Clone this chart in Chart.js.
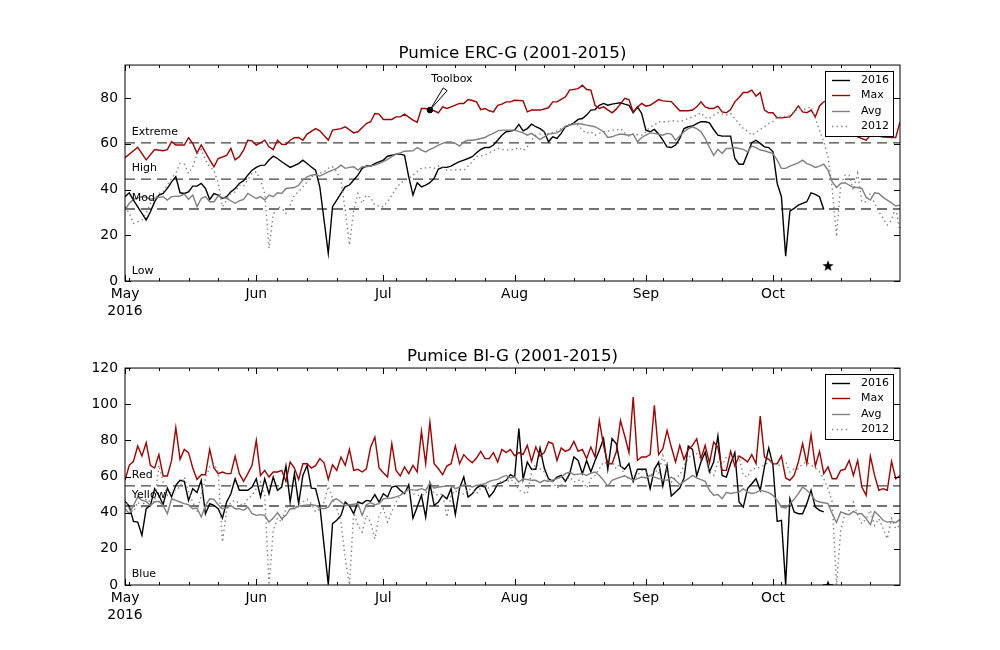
<!DOCTYPE html>
<html>
<head>
<meta charset="utf-8">
<script src="https://cdn.jsdelivr.net/npm/chart.js@4.4.1/dist/chart.umd.min.js"></script>
<style>
  body { margin: 0; background: #fff; }
  canvas { display: block; }
</style>
</head>
<body>
<canvas id="erc" width="1000" height="325"></canvas>
<canvas id="bi" width="1000" height="325"></canvas>
<script>
// x values are days since May 1 2016
const months = ['May', 'Jun', 'Jul', 'Aug', 'Sep', 'Oct'];
const monthStart = [0, 31, 61, 92, 123, 153];
const lastDay = 183;
const seriesNames = ['2016', 'Max', 'Avg', '2012'];

const ercTicks = [0, 20, 40, 60, 80];
const ercLevels = [60.4, 44.6, 31.5];
const ercLevelNames = ['Extreme', 'High', 'Mod', 'Low'];
const ercLevelText = [65.1, 49.4, 36.3, 4.4];

const biTicks = [0, 20, 40, 60, 80, 100, 120];
const biLevels = [54.8, 43.7];
const biLevelNames = ['Red', 'Yellow', 'Blue'];
const biLevelText = [60.8, 49.8, 6.1];

const toolboxPoint = [72, 74.8];
const todayStar = 166;

const erc2016 = [[0,36.9],[1,38.6],[2,35.4],[4,29.6],[5,26.7],[6,30.3],[7,34.7],[8,37.6],[9,38.3],[10,40.5],[11,43.4],[12,45.6],[13,38.6],[14,38.3],[15,39],[16,41.5],[17,41.5],[18,42.7],[19,40.5],[20,35.7],[21,38.3],[22,37.6],[23,36.1],[24,36.9],[25,39],[26,40.5],[27,42.7],[28,43.9],[29,46.3],[30,48.5],[31,49.7],[32,50.6],[33,50.7],[34,52.9],[35,54.6],[36,53.6],[37,52.2],[39,49.7],[41,51.4],[42,52.9],[43,51.4],[44,49.9],[45,48.5],[46,41.2],[47,26.7],[48,12.1],[49,32.5],[50,35.4],[51,38.3],[52,41.2],[53,42],[54,44.2],[55,46.3],[56,49.3],[57,50.3],[58,50.3],[59,51.4],[61,52.9],[62,54.6],[63,55],[64,55.5],[65,55.5],[66,55],[67,45.6],[68,37.6],[69,43],[70,41.2],[71,42],[72,43],[73,44.9],[74,49],[75,49.7],[76,49.7],[77,50.3],[78,51.4],[79,52.2],[80,52.9],[81,53.6],[82,54.4],[83,56.1],[84,57.6],[85,58.4],[86,58.4],[87,59.5],[88,61.6],[89,63.8],[90,65.3],[91,65.6],[92,66],[93,68.5],[94,65.7],[95,66.7],[96,68.6],[97,67.5],[98,66.7],[99,65.3],[100,60.9],[101,63.1],[102,62.4],[103,64.6],[104,67.5],[105,68.2],[106,69.2],[107,70.7],[108,71.1],[109,72.6],[110,74.8],[111,75],[112,76.9],[113,77.7],[114,76.9],[115,77.4],[116,77.7],[117,78],[118,77.4],[119,76.9],[120,73.6],[121,76.2],[122,73.3],[123,66],[124,65.3],[125,66.3],[126,64.3],[127,61.6],[128,58.7],[129,58.4],[130,59.5],[131,62.4],[132,66.7],[133,67.5],[134,67.8],[135,68.9],[136,69.7],[137,69.7],[138,69.2],[139,66.3],[140,63.8],[141,63.4],[142,63.4],[143,63.4],[144,53.6],[145,51.1],[146,51.1],[147,55.8],[148,60.5],[149,61.6],[150,60.2],[151,58.7],[152,58.4],[153,56.5],[154,42.7],[155,36.9],[156,10.9],[157,30.6],[158,31.8],[159,33.2],[160,34],[161,34.7],[162,38.6],[163,37.9],[164,36.9],[165,31.3]];
const ercMax = [[0,54],[3,58.5],[5,53],[7,57.5],[9,57],[10,57.5],[11,61],[12,59.5],[14,59.5],[15,62.7],[16,60.2],[17,56],[18,59.5],[20,53],[21,50],[22,53.6],[24,55],[25,58],[26,53],[27,54.4],[28,57.3],[29,61.6],[30,61.3],[31,59.5],[32,60.5],[33,61.6],[34,58.7],[35,57.5],[36,61.6],[37,59.8],[38,59.7],[39,61.6],[40,62.7],[41,62.8],[42,61.6],[43,64.3],[44,65.5],[45,66.7],[46,65.7],[48,61.6],[49,66],[51,66.7],[52,67.5],[54,64.8],[55,65.3],[57,68.9],[58,69.7],[59,73.3],[60,73],[61,70.7],[63,70.7],[64,71.8],[65,71.8],[66,73],[68,70.4],[69,69.5],[70,75.5],[71,75.5],[72,74.8],[73,74.5],[74,73.6],[75,76.2],[76,75.5],[77,76.2],[78,77],[79,77.7],[80,77.7],[81,79.4],[82,79],[83,78.4],[84,75],[85,75.5],[86,74.5],[87,74],[88,76.9],[89,77.4],[90,78.4],[91,78.4],[92,79.1],[93,79],[94,78.8],[95,74],[96,74.8],[98,74.8],[100,75.8],[101,78.4],[102,78.4],[103,79.5],[104,80.6],[105,83.5],[107,84.2],[108,85.7],[109,83.8],[110,83.5],[111,76.9],[112,75.5],[113,76.2],[115,73.6],[116,75.2],[117,77.5],[118,79.9],[119,79.4],[120,74],[121,76],[122,77.7],[123,76.5],[124,76.9],[126,79.4],[127,78.8],[129,78.5],[130,76.5],[131,74.5],[133,74.5],[134,74.8],[135,76.2],[136,78.4],[137,76.2],[138,75.5],[139,75.5],[140,76.5],[141,74],[142,73.6],[143,75],[144,78.4],[145,80.3],[146,82.5],[147,82.5],[148,83.5],[149,80.9],[150,82.5],[151,74.8],[152,73.6],[153,73.6],[154,71.4],[155,71.4],[156,71.6],[157,71.8],[158,74],[159,76.6],[160,74],[161,73.6],[162,74.8],[163,71.8],[164,76.6],[165,78.4],[166,79],[167,80],[168,78],[169,75],[170,72],[171,68],[172,65],[173,63],[175,61.6],[176,63.8],[178,63.4],[179,63],[181,62.8],[182,62.8],[183,69.6]];
const ercAvg = [[0,31],[1,34],[2,35.7],[4,36.9],[5,36.6],[6,35.8],[7,36.2],[9,36.9],[10,35.4],[11,36.9],[13,37.2],[14,38],[15,35.7],[16,37.6],[17,32.5],[18,36.1],[19,36.9],[20,34.7],[21,34.7],[22,37.2],[23,36.6],[24,36.1],[26,34],[27,35.1],[28,35.7],[29,38.3],[31,36.1],[32,36.9],[33,35.4],[34,37.6],[35,36.9],[36,38.6],[37,38.3],[38,40.5],[40,40.9],[41,41.9],[42,44.2],[43,45.6],[44,46.3],[45,46.6],[46,45.9],[48,47.8],[50,49.3],[51,50.7],[52,49.3],[53,49.7],[54,50],[55,48.5],[56,50],[57,50],[58,50.3],[59,50.7],[61,52.2],[62,53.2],[63,54.4],[64,55.5],[65,56.1],[66,56.8],[67,56.9],[68,57],[69,58.4],[70,57.3],[71,56.5],[72,57.6],[73,58.4],[74,59.5],[75,60.2],[76,60.9],[77,60.9],[78,60.2],[79,59],[80,60.9],[81,61.6],[82,61.6],[83,61.9],[85,62.8],[86,63.8],[87,64.6],[88,65.7],[89,66],[91,66],[92,66],[94,64.8],[95,63.8],[96,64.6],[98,61.9],[99,63.1],[100,64.3],[102,64.8],[103,66],[104,67.8],[105,68.2],[107,68.9],[108,68.6],[109,68.2],[110,67.8],[111,67.5],[113,65.3],[114,62.8],[115,63.1],[116,63.8],[117,64.3],[119,63.8],[120,64.3],[121,60.9],[122,62.8],[123,63.8],[124,64.8],[125,64.6],[127,63.8],[128,64.6],[129,64.3],[130,61.6],[132,65.3],[133,66.7],[134,67.5],[135,66.7],[136,65.3],[137,62.4],[138,58.5],[139,55],[140,57.6],[141,55.8],[142,58],[143,58],[144,58.4],[146,57.6],[147,56.5],[148,59],[149,58.4],[150,57.3],[151,57],[153,55.8],[154,52.9],[155,49.3],[156,49.3],[157,50.3],[159,51.7],[160,52.9],[161,51.4],[162,50.7],[163,49.7],[164,50.3],[165,51.1],[166,48.5],[167,43.4],[168,40.9],[169,42.7],[170,43],[172,40.9],[173,40.9],[174,40.5],[175,36.6],[176,35.4],[177,38.6],[178,38.3],[179,36.6],[180,35.4],[181,34.2],[182,32.8],[183,33.2]];
const erc2012 = [[0,32.5],[1,29.6],[2,25.2],[4,26.7],[5,29.6],[6,34],[7,35.7],[8,38.3],[9,39],[11,44.9],[12,47.1],[13,51.4],[14,51.1],[15,47.1],[16,50],[17,55.5],[18,57.6],[19,52.9],[20,50],[21,48.5],[22,43],[23,32.5],[24,35.4],[25,38.3],[26,39],[27,42],[28,41.5],[30,47.1],[31,47.8],[32,44.2],[33,38.3],[34,14.3],[35,29],[36,32.5],[37,31.8],[38,29.6],[39,33.2],[40,37.6],[41,39],[42,41.2],[43,43.4],[44,45.6],[46,47.1],[47,47.8],[48,49.3],[49,50],[50,47.8],[51,44],[52,31],[53,15.7],[54,31],[55,38.3],[56,34],[57,37.6],[58,36.5],[59,33.2],[60,32.8],[61,32.5],[62,34.7],[63,37.6],[64,40.5],[65,42.7],[66,44],[67,44.9],[68,46.3],[69,47.8],[70,49.3],[71,49.5],[72,49.7],[73,49.3],[74,50.3],[75,50],[76,48.5],[77,48.5],[79,48.8],[80,48.5],[81,50.3],[82,52.2],[83,54.4],[85,55.1],[86,56.1],[87,57],[88,58],[89,57.6],[90,57.3],[92,57.6],[93,58.4],[94,57],[95,58.7],[96,61.6],[97,63.8],[98,64.3],[99,65.3],[100,64.3],[101,65],[102,65.7],[103,66.7],[104,67.5],[105,68.6],[106,68.9],[107,68.2],[108,66],[109,64.6],[110,65.3],[111,63.8],[112,64.6],[113,65.3],[114,65.6],[115,66],[116,66],[117,66.7],[118,64.8],[119,63.4],[120,64.3],[121,64],[122,63.8],[123,65.3],[124,67.5],[125,68.2],[126,69.7],[127,69.7],[128,69.7],[129,70.1],[130,70.1],[131,69.7],[132,70.4],[133,71.1],[134,71.8],[135,72.6],[136,73.6],[137,71.5],[138,71.1],[139,72.6],[140,73.6],[142,72.6],[143,73.3],[144,71.1],[145,68.9],[146,66.7],[147,65.5],[148,63.8],[150,66.3],[151,67.5],[152,68.9],[153,69.7],[154,71.8],[155,71.8],[157,72.6],[158,74],[159,75.5],[160,74.8],[161,75.5],[162,76.2],[163,71.1],[164,66],[165,60.9],[166,54.4],[167,40.5],[168,19.4],[169,42],[170,46.3],[171,46.3],[172,39.8],[173,47.1],[174,34.7],[175,34.7],[176,38.3],[177,33.9],[178,30.3],[180,24.5],[181,26.7],[182,32.5],[183,21]];

const bi2016 = [[0,46.3],[1,43.7],[2,35.2],[3,34.8],[4,27.5],[5,42.2],[6,44],[7,53.3],[8,49.6],[9,44.4],[10,53.6],[11,48.7],[12,55.1],[13,57.9],[14,57.3],[15,46.8],[16,53.3],[17,51.1],[18,57.9],[19,39.4],[20,45],[21,44],[22,42.2],[23,37],[24,45.9],[25,50.5],[26,58.8],[27,52.4],[28,52.4],[29,52.4],[30,54.2],[31,58.8],[32,48.7],[33,58.8],[34,50.5],[35,59.7],[36,52.4],[37,54.2],[38,65.8],[39,45.9],[40,61.6],[41,45],[42,60.6],[43,66.2],[44,53.6],[45,53.3],[46,44],[47,21.9],[48,0.2],[49,33.9],[50,35.8],[51,38.5],[52,45.9],[53,43.7],[54,39.4],[55,45.9],[56,45],[57,46.8],[58,46.3],[59,50],[60,45.9],[61,50.5],[62,48.7],[63,54.2],[64,54.7],[65,52.4],[66,50.5],[67,55.5],[68,37],[69,43.1],[70,49.6],[71,37.6],[72,56],[73,44],[74,45.9],[75,49.6],[76,47.7],[77,53.3],[78,38.9],[79,53.6],[80,59.7],[81,48.7],[82,50.5],[83,53.6],[84,55.1],[85,54.2],[86,48.7],[87,51.4],[88,56],[89,56.6],[90,57.9],[91,61],[92,59.7],[93,86.5],[94,58.4],[95,68],[96,64],[97,64],[98,75.8],[99,64.7],[100,58.8],[101,57.3],[102,59.7],[103,60.6],[104,57.3],[105,61.6],[106,70.8],[107,68.9],[108,61.6],[109,68.9],[110,62.5],[111,68.9],[112,74.5],[113,80.9],[114,64],[115,80.9],[116,78.2],[117,65.8],[118,64],[119,67.1],[120,57.3],[121,64],[122,64],[123,64],[124,53.3],[125,64],[126,68],[127,54.7],[128,66.2],[129,49.2],[130,51.4],[131,53.6],[132,59.2],[133,76.9],[134,75],[135,60.3],[136,68],[137,73.5],[138,62.5],[139,68],[140,82.4],[141,60.6],[142,59.7],[143,67.1],[144,73.2],[145,45.9],[146,43.1],[147,53.3],[148,56],[149,58.8],[150,52.4],[151,65.3],[152,75.8],[153,66.2],[154,35.2],[155,35.8],[156,0.2],[157,47.7],[158,40.4],[159,39.4],[160,39.4],[161,45],[162,52.4],[163,43.1],[164,41.3],[165,40.4]];
const biMax = [[0,57.9],[1,66.2],[2,68.4],[3,76.9],[4,71.3],[5,78.7],[6,66.2],[7,64.7],[8,72.1],[9,60.3],[10,60.3],[11,68.9],[12,87],[13,69.5],[14,75],[15,73.2],[16,64.7],[17,58.4],[18,61],[19,61],[20,75],[21,64.7],[22,61.6],[23,62.5],[24,61.6],[25,61.6],[26,71.2],[27,61.6],[28,57.3],[29,61.6],[30,66.2],[31,80],[32,60.6],[33,63.4],[34,59.7],[35,62.5],[36,62.5],[37,63.4],[38,57.3],[39,68],[40,64.7],[41,58.4],[42,67.1],[43,67.1],[44,64.7],[45,66],[46,69.9],[47,67.6],[48,58.4],[49,66.5],[50,63.4],[51,70.8],[52,66.2],[53,75],[54,63.4],[55,64],[56,62.5],[57,64.3],[58,76.3],[59,81.8],[60,64.7],[61,62.1],[62,59.7],[63,78.2],[64,63.4],[65,60.3],[66,65.3],[67,61.6],[68,66.2],[69,62.5],[70,85],[71,67.1],[72,90.1],[73,67.1],[74,64.3],[75,61],[76,65.8],[77,67.1],[78,76.9],[79,67.1],[80,72.1],[81,69.5],[82,67.6],[83,70.2],[84,73.9],[85,69.9],[86,69.9],[87,73.2],[88,68],[89,75],[90,73.2],[91,75],[92,71.5],[93,73.2],[94,72.1],[95,77.2],[96,68.4],[97,76.3],[98,71.3],[99,73.2],[100,79.1],[101,78.2],[102,68.9],[103,75.8],[104,73.9],[105,75],[106,79.4],[107,73.9],[108,75],[109,69.9],[110,76.3],[111,70.8],[112,91],[113,77.2],[114,67.1],[115,67.1],[116,73.5],[117,91],[118,82.4],[119,73.2],[120,104],[121,68.9],[122,70.8],[123,70.8],[124,72.1],[125,99.4],[126,72.1],[127,75.4],[128,85.5],[129,76.3],[130,68],[131,77.2],[132,69.5],[133,75],[134,77.2],[135,80.9],[136,69.9],[137,77.2],[138,67.5],[139,79.1],[140,76.3],[141,63.4],[142,63.4],[143,73.9],[144,65.8],[145,71.3],[146,69.9],[147,68],[148,72.1],[149,67.1],[150,93.5],[151,70.8],[152,69.5],[153,67.1],[154,67.1],[155,71.3],[156,59.2],[157,57.9],[158,60.6],[159,68],[160,78.2],[161,67.1],[162,83.1],[163,65.8],[164,73.9],[165,61.6],[166,65.3],[167,58.8],[168,58.8],[169,63.4],[170,64],[171,68.9],[172,60.6],[173,68.9],[174,54.2],[175,49.6],[176,71.3],[177,60.6],[178,52.4],[179,53.3],[180,52.4],[181,68.4],[182,58.8],[183,60.6]];
const biAvg = [[0,42.2],[1,39.4],[2,44],[3,48.7],[4,46.8],[5,46.3],[6,44],[7,45.9],[8,46.3],[9,44],[10,39.4],[11,47.7],[12,46.8],[13,45.9],[14,45],[15,44.4],[16,42.2],[17,42.6],[18,37.6],[19,44],[20,47.7],[21,47.4],[22,44.4],[23,42.2],[24,42.6],[25,44],[26,42.2],[27,42.2],[28,41.3],[29,43.1],[30,39.4],[31,38.5],[32,38.9],[33,38.5],[34,34.8],[35,37],[36,40],[37,36.7],[38,38.5],[39,42.2],[40,42.2],[41,43.7],[42,44],[44,44.4],[45,44],[46,42.6],[47,42.2],[48,43.1],[49,46.8],[50,47.7],[51,45.9],[52,44],[53,44.4],[54,44.7],[55,45],[56,38.5],[57,44.4],[58,45.5],[59,44.4],[60,45],[61,47.7],[62,47.9],[63,48.1],[64,48.7],[65,49.6],[66,51.4],[67,52.9],[68,52.6],[69,52.4],[70,53.3],[71,52.4],[72,56.6],[73,53.6],[74,54.2],[75,54.5],[76,54.7],[77,55.1],[78,53.3],[79,54.2],[80,55.5],[81,54.8],[82,54.2],[83,55.1],[84,55.5],[85,56],[86,57.3],[87,58],[88,58.4],[89,59.7],[90,60.6],[91,59.2],[92,59.7],[93,57],[94,58.8],[96,57.9],[97,57.9],[98,56.6],[99,57.9],[100,57.3],[102,58.8],[103,59.7],[104,61.6],[105,62.5],[106,61],[107,61.3],[108,61.6],[109,60.6],[110,61.9],[111,62.5],[112,60.6],[113,57.9],[114,54.7],[115,57.9],[116,58.8],[117,59.7],[118,60.3],[119,59.2],[120,57.9],[121,58.8],[122,59.7],[123,59.2],[124,60.6],[125,59.7],[126,58.8],[127,58.3],[128,57.9],[129,59.7],[130,57.9],[131,55.5],[132,57.3],[133,58.8],[134,60.6],[135,59.2],[136,58.3],[137,57.3],[138,52.4],[139,49.6],[140,50],[141,47.7],[142,51.1],[143,50.6],[144,51.1],[145,51.4],[146,53.3],[147,51.4],[148,50.6],[149,51.1],[150,52.4],[151,51.8],[152,51.1],[153,49.6],[154,46.8],[155,43.1],[156,42.6],[157,45],[158,47.4],[159,50.5],[160,54.2],[161,52.4],[162,50],[163,46.8],[164,45.9],[165,45.5],[166,45],[167,39.4],[168,34.5],[169,40.4],[170,39.4],[171,38.9],[172,40.7],[173,39.4],[174,39.4],[175,36.7],[176,33.4],[177,40.7],[178,38.5],[179,35.8],[180,34.8],[181,35.2],[182,34.5],[183,36.3]];
const bi2012 = [[0,47.7],[1,42.2],[2,40.4],[3,45.9],[4,43.1],[5,47.7],[6,45.9],[7,45.9],[8,66.2],[9,57],[10,49.6],[11,51.4],[12,52.4],[13,54.2],[14,59.7],[15,51.4],[16,45.9],[17,40.4],[18,49.6],[19,58.8],[20,65.3],[21,67.1],[22,62.5],[23,23.8],[24,41.3],[25,45.9],[26,46.8],[27,45],[28,44],[29,47.7],[30,49.6],[31,53.3],[32,57],[33,49.6],[34,0],[35,30],[36,37],[37,34.8],[38,42.2],[39,45],[40,42.2],[41,45],[42,46],[43,47.4],[44,45],[45,40.4],[46,42.2],[47,45.9],[48,54.5],[49,48],[50,42.2],[51,34.8],[52,15],[53,0],[54,40],[55,33],[56,29.3],[57,38.5],[58,34.8],[59,25.6],[60,38.5],[61,42.2],[62,34.8],[63,40.4],[64,45.9],[65,49.6],[66,51.4],[67,50],[68,50.5],[69,49.6],[70,49.6],[71,50.5],[72,56],[73,50.5],[74,49.6],[75,50.5],[76,37.6],[77,49.6],[78,52.4],[79,49.6],[80,50.5],[81,53.3],[82,52.4],[83,50.5],[84,53.6],[85,54.2],[86,53.6],[87,55.1],[88,55.5],[89,57.9],[90,57],[91,58.4],[92,57],[93,52.4],[94,51.4],[95,50.5],[96,62.5],[97,67.1],[98,64.3],[99,62.5],[100,57.9],[101,57],[102,53.6],[103,55.1],[104,57.9],[105,59.7],[106,57],[107,57.9],[108,57.9],[109,53.6],[110,58.8],[111,60.6],[112,64.3],[113,68],[114,67.1],[115,68],[116,64.3],[117,68],[118,59.7],[119,58.8],[120,58.4],[121,60.6],[122,63.4],[123,62.5],[124,59.7],[125,64.3],[126,61.6],[127,71.7],[128,62.5],[129,57],[130,59.7],[131,60.6],[132,66.2],[133,69.9],[134,73.2],[135,72.6],[136,69.9],[137,70.8],[138,62.5],[139,60.6],[140,68],[141,66.2],[142,70.8],[143,72.6],[144,71.7],[145,70.8],[146,60.6],[147,59.7],[148,64.3],[149,64.3],[150,65.3],[151,66.2],[152,68],[153,68],[154,66.2],[155,66.2],[156,68],[157,62.5],[158,64.3],[159,64.3],[160,67.1],[161,68],[162,66.2],[163,64.7],[164,62.5],[165,58.8],[166,53.3],[167,45.9],[168,0],[169,30],[170,39.4],[171,41.3],[172,45.9],[173,38.5],[174,33.9],[175,36.7],[176,41.3],[177,33],[178,36.7],[179,31.2],[180,25.6],[181,36.7],[182,31.2],[183,33]];

const FONT = 'DejaVu Sans';
const RED = '#a00000';
const GRAY = '#808080';
const DOTS = [1.4, 3.2];

function xy(pairs) {
    return pairs.map(p => ({ x: p[0], y: p[1] }));
}

function makeStar() {
    const c = document.createElement('canvas');
    c.width = 14; c.height = 14;
    const g = c.getContext('2d');
    g.fillStyle = '#000';
    g.beginPath();
    for (let i = 0; i < 10; i++) {
        const r = i % 2 ? 2.4 : 6;
        const a = -Math.PI / 2 + i * Math.PI / 5;
        g.lineTo(7 + r * Math.cos(a), 7 + r * Math.sin(a));
    }
    g.closePath();
    g.fill();
    return c;
}
const starImg = makeStar();

// frame, inward ticks, level names, annotation and the boxed legend
const framePlugin = {
    id: 'frame',
    afterDraw(chart, args, opts) {
        const { ctx, chartArea: a, scales: { x, y } } = chart;
        ctx.save();

        // the "today" star sits on the lower axis, clipped like the data
        if (opts.edgeStar !== undefined) {
            ctx.save();
            ctx.beginPath();
            ctx.rect(a.left, a.top, a.right - a.left, a.bottom - a.top);
            ctx.clip();
            const sx = x.getPixelForValue(todayStar);
            const sy = y.getPixelForValue(opts.edgeStar);
            ctx.drawImage(starImg, sx - 7, sy - 7);
            ctx.restore();
        }

        ctx.strokeStyle = '#000';
        ctx.lineWidth = 1;
        ctx.strokeRect(a.left, a.top, a.right - a.left, a.bottom - a.top);

        const tick = (x0, y0, x1, y1) => {
            ctx.beginPath(); ctx.moveTo(x0, y0); ctx.lineTo(x1, y1); ctx.stroke();
        };
        monthStart.forEach(d => {
            const px = Math.round(x.getPixelForValue(d)) + 0.5;
            tick(px, a.bottom, px, a.bottom - 6);
            tick(px, a.top, px, a.top + 6);
        });
        for (let d = 1; d < lastDay; d += 7) {
            if (monthStart.includes(d)) continue;
            const px = Math.round(x.getPixelForValue(d)) + 0.5;
            tick(px, a.bottom, px, a.bottom - 3);
            tick(px, a.top, px, a.top + 3);
        }
        opts.yTicks.forEach(v => {
            const py = Math.round(y.getPixelForValue(v)) + 0.5;
            tick(a.left, py, a.left + 6, py);
            tick(a.right, py, a.right - 6, py);
        });

        ctx.fillStyle = '#000';
        ctx.font = '11px ' + FONT;
        ctx.textAlign = 'left';
        ctx.textBaseline = 'middle';
        opts.levelNames.forEach((t, i) => {
            ctx.fillText(t, x.getPixelForValue(1.6), y.getPixelForValue(opts.levelText[i]));
        });

        if (opts.note) {
            const tx = x.getPixelForValue(opts.note.textAt[0]);
            const ty = y.getPixelForValue(opts.note.textAt[1]);
            ctx.textAlign = 'center';
            ctx.fillText(opts.note.text, tx, ty);
            const bx = x.getPixelForValue(opts.note.baseAt[0]);
            const by = y.getPixelForValue(opts.note.baseAt[1]);
            const px = x.getPixelForValue(opts.note.at[0]);
            const py = y.getPixelForValue(opts.note.at[1]);
            const len = Math.hypot(bx - px, by - py);
            const nx = -(by - py) / len * 2.4, ny = (bx - px) / len * 2.4;
            ctx.beginPath();
            ctx.moveTo(px, py);
            ctx.lineTo(bx + nx, by + ny);
            ctx.lineTo(bx - nx, by - ny);
            ctx.closePath();
            ctx.fillStyle = '#fff';
            ctx.fill();
            ctx.stroke();
        }

        // legend box
        const items = chart.data.datasets.filter(ds => ds.inLegend);
        const w = 68, h = 65;
        const lx = a.right - 7 - w, ly = a.top + 6;
        ctx.fillStyle = '#fff';
        ctx.fillRect(lx, ly, w, h);
        ctx.strokeStyle = '#000';
        ctx.lineWidth = 1;
        ctx.strokeRect(Math.round(lx) + 0.5, Math.round(ly) + 0.5, w, h);
        ctx.textAlign = 'left';
        items.forEach((ds, i) => {
            const cy = Math.round(ly + 9 + i * 15.3) + 0.5;
            ctx.strokeStyle = ds.borderColor;
            ctx.lineWidth = ds.borderWidth;
            ctx.setLineDash(ds.borderDash || []);
            ctx.beginPath(); ctx.moveTo(lx + 7, cy); ctx.lineTo(lx + 25, cy); ctx.stroke();
            ctx.setLineDash([]);
            ctx.fillStyle = '#000';
            ctx.fillText(ds.label, lx + 36, cy);
        });
        ctx.restore();
    }
};

function lineSet(label, pairs, color, dash, order) {
    return {
        label: label, data: xy(pairs), borderColor: color, borderWidth: 1.4,
        borderDash: dash, pointRadius: 0, tension: 0, inLegend: true, order: order
    };
}

function levelSet(v) {
    return {
        label: '', data: [{ x: 0, y: v }, { x: lastDay, y: v }], borderColor: '#444',
        borderWidth: 1.3, borderDash: [10, 6], pointRadius: 0, order: 9
    };
}

function buildChart(id, o) {
    const datasets = [
        lineSet(seriesNames[0], o.s2016, '#000', [], 4),
        lineSet(seriesNames[1], o.sMax, RED, [], 3),
        lineSet(seriesNames[2], o.sAvg, GRAY, [], 2),
        lineSet(seriesNames[3], o.s2012, GRAY, DOTS, 1),
        ...o.levels.map(levelSet)
    ];
    if (o.starY !== undefined) {
        datasets.push({
            label: '', data: [{ x: todayStar, y: o.starY }], showLine: false,
            pointStyle: starImg, pointRadius: 6, order: 0
        });
    }
    if (o.note) {
        datasets.push({
            label: '', data: [{ x: o.note.at[0], y: o.note.at[1] }], showLine: false,
            pointRadius: 2.8, pointBackgroundColor: '#000', pointBorderColor: '#000', order: 0
        });
    }
    return new Chart(document.getElementById(id), {
        type: 'line',
        data: { datasets: datasets },
        options: {
            responsive: false,
            animation: false,
            devicePixelRatio: 1,
            events: [],
            layout: { padding: { left: 0, right: 100, top: 0, bottom: 0 } },
            plugins: {
                legend: { display: false },
                tooltip: { enabled: false },
                title: {
                    display: true, text: o.title, color: '#000', fullSize: false,
                    font: { family: FONT, size: 16.7, weight: 'normal' },
                    padding: { top: o.titleTop, bottom: 1 }
                },
                frame: {
                    yTicks: o.yTicks, levelNames: o.levelNames, levelText: o.levelText,
                    note: o.note, edgeStar: o.edgeStar
                }
            },
            scales: {
                x: {
                    type: 'linear', min: 0, max: lastDay,
                    grid: { display: false, drawTicks: false },
                    border: { display: false },
                    afterBuildTicks: s => { s.ticks = monthStart.map(v => ({ value: v })); },
                    afterFit: s => { s.height = o.xHeight; },
                    ticks: {
                        autoSkip: false, maxRotation: 0, padding: 5, color: '#000',
                        font: { family: FONT, size: 13.9 },
                        callback: v => {
                            const i = monthStart.indexOf(v);
                            return i === 0 ? [months[0], '2016'] : months[i];
                        }
                    }
                },
                y: {
                    min: 0, max: o.yMax,
                    grid: { display: false, drawTicks: false },
                    border: { display: false },
                    afterBuildTicks: s => { s.ticks = o.yTicks.map(v => ({ value: v })); },
                    afterFit: s => { s.width = 125; },
                    ticks: { padding: 7, color: '#000', font: { family: FONT, size: 13.9 } }
                }
            }
        },
        plugins: [framePlugin]
    });
}

buildChart('erc', {
    title: 'Pumice ERC-G (2001-2015)', titleTop: 44, xHeight: 44,
    yMax: 94.5, yTicks: ercTicks,
    s2016: erc2016, sMax: ercMax, sAvg: ercAvg, s2012: erc2012,
    levels: ercLevels, levelNames: ercLevelNames, levelText: ercLevelText,
    starY: 6.5,
    note: { text: 'Toolbox', at: toolboxPoint, textAt: [77.2, 88.3], baseAt: [75.6, 83.9] }
});

buildChart('bi', {
    title: 'Pumice BI-G (2001-2015)', titleTop: 22, xHeight: 65,
    yMax: 120, yTicks: biTicks,
    s2016: bi2016, sMax: biMax, sAvg: biAvg, s2012: bi2012,
    levels: biLevels, levelNames: biLevelNames, levelText: biLevelText,
    edgeStar: -0.6
});
</script>
</body>
</html>
